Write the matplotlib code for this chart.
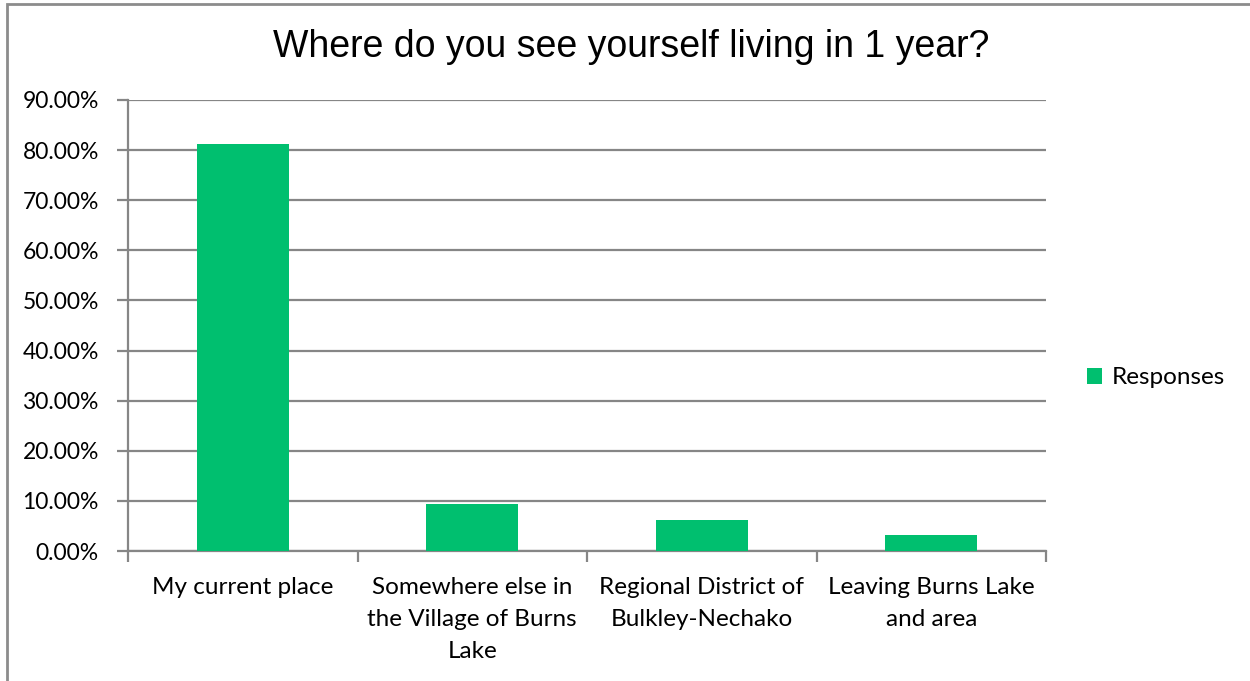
import matplotlib
matplotlib.use("Agg")
import matplotlib.pyplot as plt
from matplotlib.patches import Rectangle
from matplotlib.ticker import FuncFormatter

categories = [
    "My current place",
    "Somewhere else in\nthe Village of Burns\nLake",
    "Regional District of\nBulkley-Nechako",
    "Leaving Burns Lake\nand area",
]
responses = [81.25, 9.38, 6.25, 3.13]
series_name = "Responses"
title = "Where do you see yourself living in 1 year?"

bar_color = "#00BF6F"
grid_color = "#868686"
label_font = ["Lato", "DejaVu Sans"]
title_font = ["Liberation Sans", "DejaVu Sans"]

fig = plt.figure(figsize=(12.5, 6.81), dpi=100)
fig.patch.set_facecolor("white")

# chart frame
fig.patches.append(Rectangle((7 / 1250, -0.05), 1.2, 1 - 4 / 681 + 0.05,
                             transform=fig.transFigure, fill=False,
                             edgecolor="#8C8C8C", linewidth=2))

ax = fig.add_axes([128 / 1250, 1 - 551 / 681, 918 / 1250, 451 / 681])
x = list(range(len(categories)))
bars = ax.bar(x, responses, width=0.4, color=bar_color, label=series_name, zorder=3)

ax.set_xlim(-0.5, len(categories) - 0.5)
ax.set_ylim(0, 90)
ax.set_yticks(range(0, 91, 10))
ax.yaxis.set_major_formatter(FuncFormatter(lambda v, p: f"{v:.2f}%"))
ax.grid(axis="y", color=grid_color, linewidth=1.6, zorder=0)

for s in ["top", "right"]:
    ax.spines[s].set_visible(False)
for s in ["left", "bottom"]:
    ax.spines[s].set_color(grid_color)
    ax.spines[s].set_linewidth(1.6)

ax.tick_params(axis="y", length=8, width=1.6, color=grid_color, pad=13,
               labelsize=16.5)
ax.set_xticks(x)
ax.set_xticklabels(categories, fontsize=17.5, family=label_font, linespacing=1.65,
                   va="top")
ax.tick_params(axis="x", length=0, pad=19)
for lab in ax.get_yticklabels():
    lab.set_family(label_font)

# category boundary ticks
ax.set_xticks([i - 0.5 for i in range(len(categories) + 1)], minor=True)
ax.tick_params(axis="x", which="minor", length=8, width=1.6, color=grid_color)

fig.text(631 / 1250, 1 - 47 / 681, title, ha="center", va="center",
         fontsize=27, family=title_font)

leg = fig.legend(handles=[bars], labels=[series_name], loc="center left",
                 bbox_to_anchor=(1065 / 1250, 1 - 378 / 681), frameon=False,
                 prop={"family": label_font, "size": 17.5},
                 handlelength=0.62, handleheight=0.62, handletextpad=0.4)

fig.savefig("out.png", dpi=100, facecolor="white")
